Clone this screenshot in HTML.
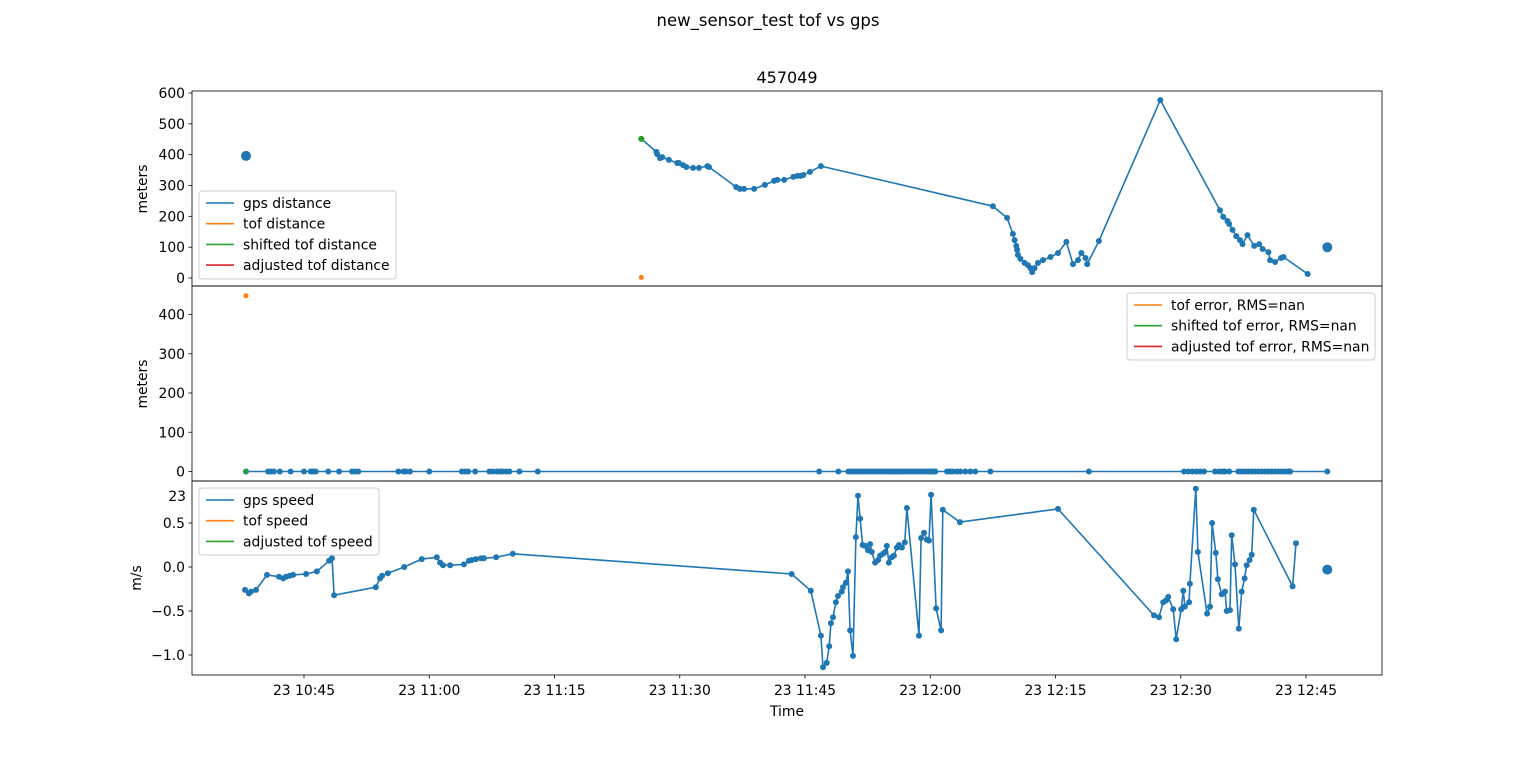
<!DOCTYPE html>
<html><head><meta charset="utf-8"><style>
html,body{margin:0;padding:0;background:#fff}
svg{display:block;font-family:"DejaVu Sans","Liberation Sans",sans-serif}
</style></head><body>
<svg id="fig" width="1536" height="759" viewBox="0 0 1536 759">
<text x="768" y="26" text-anchor="middle" font-size="16.5">new_sensor_test tof vs gps</text>
<text x="787" y="83" text-anchor="middle" font-size="16">457049</text>
<g id="g"></g>
</svg>
<script>
// time in minutes after 10:00 on day 23
const xTicks=[45,60,75,90,105,120,135,150,165];
const xTickLabels=["23 10:45","23 11:00","23 11:15","23 11:30","23 11:45","23 12:00","23 12:15","23 12:30","23 12:45"];
const distTicks=[0,100,200,300,400,500,600];
const errTicks=[0,100,200,300,400];
const speedTicks=[-1.0,-0.5,0.0,0.5];
const speedTickLabels=["\u22121.0","\u22120.5","0.0","0.5"];

const gpsDistT=[85.4,87.2,87.3,87.65,87.9,88.7,89.7,89.9,90.4,90.8,91.6,92.3,93.3,93.5,96.75,97.2,97.7,98.9,100.2,101.3,101.7,102.5,103.6,104.1,104.5,104.8,105.6,106.9,127.5,129.2,129.9,130.1,130.3,130.4,130.5,130.8,131.3,131.7,132.0,132.2,132.5,132.9,133.5,134.4,135.3,136.3,137.1,137.7,138.1,138.6,138.8,140.2,147.55,154.7,155.1,155.6,155.8,156.2,156.65,157.1,157.4,158.0,158.8,159.4,159.8,160.5,160.7,161.3,162.0,162.3,165.2];
const gpsDistV=[451,409,402,389,392,383,373,373,366,360,357,357,363,360,295,289,289,289,302,315,318,318,328,331,331,334,344,363,233,195,143,123,104,91,75,62,49,42,32,19,32,49,58,68,81,117,45,58,81,65,45,120,577,220,198,185,175,156,136,123,110,139,104,110,94,84,58,52,65,68,13];
const gpsDistBigT=[38.05,167.55];
const gpsDistBigV=[396,100];
const tofDistT=[85.4];
const tofDistV=[2];
const shiftedDistT=[85.4];
const shiftedDistV=[451];

const errT=[38.05,40.7,41.05,41.4,42.1,43.4,45,45.8,46.1,46.4,47.9,49.2,50.75,51.1,51.5,56.3,56.9,57.2,57.7,60,63.9,64.3,64.65,65.5,67.2,67.6,68.1,68.5,68.8,69.2,69.6,70.8,73,106.7,109,110.2,110.5,110.8,111.1,111.4,111.7,112.0,112.3,112.6,112.9,113.2,113.5,113.8,114.1,114.4,114.7,115.0,115.3,115.6,115.9,116.2,116.5,116.8,117.1,117.4,117.7,118.0,118.3,118.6,118.9,119.2,119.5,119.8,120.1,120.4,120.6,122.0,122.4,122.7,123.2,123.6,124.2,124.8,125.4,127.2,139.0,150.4,150.9,151.4,151.9,152.3,152.8,154.1,154.6,155.0,155.3,155.8,156.9,157.3,157.7,158.1,158.5,158.9,159.3,159.7,160.1,160.5,160.9,161.3,161.7,162.1,162.5,162.9,163.1,167.55];
const errV=[0,0,0,0,0,0,0,0,0,0,0,0,0,0,0,0,0,0,0,0,0,0,0,0,0,0,0,0,0,0,0,0,0,0,0,0,0,0,0,0,0,0,0,0,0,0,0,0,0,0,0,0,0,0,0,0,0,0,0,0,0,0,0,0,0,0,0,0,0,0,0,0,0,0,0,0,0,0,0,0,0,0,0,0,0,0,0,0,0,0,0,0,0,0,0,0,0,0,0,0,0,0,0,0,0,0,0,0,0,0];
const tofErrT=[38.05];
const tofErrV=[448];
const shiftedErrT=[38.05];
const shiftedErrV=[0];

const speedT=[37.93,38.4,38.65,39.25,40.57,42.0,42.5,42.85,43.3,43.7,45.25,46.55,48.0,48.35,48.6,53.6,54.1,54.35,55.05,57.0,59.1,60.9,61.3,61.65,62.5,64.15,64.75,65.1,65.6,66.2,66.55,68.0,70.0,103.4,105.7,106.9,107.15,107.6,107.9,108.1,108.35,108.7,108.95,109.4,109.55,109.9,110.15,110.4,110.75,111.1,111.35,111.6,111.9,112.2,112.55,112.8,113.0,113.4,113.75,114.0,114.35,114.6,114.8,115.05,115.4,115.65,116.0,116.25,116.6,116.95,117.2,118.65,118.9,119.25,119.6,119.85,120.1,120.7,121.3,121.5,123.55,135.3,146.8,147.4,147.9,148.25,148.5,149.1,149.45,150.05,150.3,150.5,151.0,151.1,151.8,152.05,153.15,153.5,153.75,154.2,154.45,154.9,155.3,155.5,155.9,156.1,156.5,156.95,157.3,157.65,157.9,158.25,158.5,158.75,163.4,163.8];
const speedV=[-0.26,-0.30,-0.28,-0.26,-0.09,-0.11,-0.13,-0.11,-0.10,-0.09,-0.08,-0.05,0.07,0.10,-0.32,-0.23,-0.13,-0.10,-0.07,0.0,0.09,0.11,0.05,0.02,0.02,0.03,0.07,0.08,0.09,0.10,0.10,0.11,0.15,-0.08,-0.27,-0.78,-1.14,-1.09,-0.90,-0.64,-0.57,-0.40,-0.33,-0.28,-0.23,-0.18,-0.05,-0.72,-1.01,0.34,0.81,0.55,0.25,0.24,0.19,0.26,0.17,0.05,0.08,0.13,0.15,0.17,0.24,0.05,0.11,0.13,0.22,0.25,0.22,0.28,0.67,-0.78,0.33,0.39,0.31,0.30,0.82,-0.47,-0.72,0.65,0.51,0.66,-0.55,-0.57,-0.40,-0.38,-0.34,-0.48,-0.82,-0.48,-0.27,-0.45,-0.40,-0.19,0.89,0.17,-0.53,-0.45,0.50,0.16,-0.14,-0.31,-0.28,-0.50,-0.49,0.36,0.03,-0.70,-0.28,-0.13,0.02,0.08,0.14,0.65,-0.22,0.27];
const speedBigT=[167.55];
const speedBigV=[-0.03];

const NS="http://www.w3.org/2000/svg";
const g=document.getElementById('g');
function el(tag,attrs,parent){const e=document.createElementNS(NS,tag);for(const k in attrs)e.setAttribute(k,attrs[k]);(parent||g).appendChild(e);return e;}
const L=192,R=1382;
const xs=t=>304+(t-45)*(1306-304)/120;
const panels=[
 {top:91,bot:286,y:v=>278-v*(185/600)},
 {top:286,bot:481,y:v=>471.5-v*(157/400)},
 {top:481,bot:675,y:v=>567-v*88}
];
const BLUE="#1f77b4",ORANGE="#ff7f0e",GREEN="#2ca02c",RED="#d62728";
function series(p,T,V,color,r,line,name){
  const grp=el('g',{});
  
  
  if(line&&T.length>1){
    const d=T.map((t,i)=>(i?'L':'M')+xs(t).toFixed(1)+','+p.y(V[i]).toFixed(1)).join('');
    el('path',{d:d,fill:'none',stroke:color,'stroke-width':1.6,'stroke-linejoin':'round'},grp);
  }
  T.forEach((t,i)=>{const c=el('circle',{cx:xs(t).toFixed(1),cy:p.y(V[i]).toFixed(1),r:r,fill:color},grp);
    
    });
}
series(panels[0],gpsDistT,gpsDistV,BLUE,3,true,'gps-distance-line');
series(panels[0],gpsDistBigT,gpsDistBigV,BLUE,5,false,'gps-distance-endpoints');
series(panels[0],tofDistT,tofDistV,ORANGE,2.5,false,'tof-distance');
series(panels[0],shiftedDistT,shiftedDistV,GREEN,3,false,'shifted-tof-distance');
series(panels[1],errT,errV,BLUE,3,true,'gps-error-line');
series(panels[1],tofErrT,tofErrV,ORANGE,2.5,false,'tof-error');
series(panels[1],shiftedErrT,shiftedErrV,GREEN,2.5,false,'shifted-tof-error');
series(panels[2],speedT,speedV,BLUE,3,true,'gps-speed-line');
series(panels[2],speedBigT,speedBigV,BLUE,5,false,'gps-speed-endpoint');

function yaxis(p,ticks,labels,name){
  const ax=el('g',{});
  
  
  ticks.forEach((v,i)=>{const y=p.y(v);
    el('line',{x1:L-3.5,x2:L,y1:y,y2:y,stroke:'#000','stroke-width':0.8},ax);
    const t=el('text',{x:L-7,y:y+5,'text-anchor':'end','font-size':13.9},ax);t.textContent=labels[i];});
}
yaxis(panels[0],distTicks,distTicks.map(String),'distance-y-axis');
yaxis(panels[1],errTicks,errTicks.map(String),'error-y-axis');
yaxis(panels[2],speedTicks,speedTickLabels,'speed-y-axis');
const off=el('text',{x:186,y:501,'text-anchor':'end','font-size':13.9});off.textContent='23';


panels.forEach((p,k)=>{
  xTicks.forEach(t=>el('line',{x1:xs(t),x2:xs(t),y1:p.bot,y2:p.bot+(k==2?3.5:0),stroke:'#000','stroke-width':0.8}));
  const r=el('rect',{x:L,y:p.top,width:R-L,height:p.bot-p.top,fill:'none',stroke:'#000','stroke-width':0.8});
  
});
xTicks.forEach((t,i)=>{const tx=el('text',{x:xs(t),y:695,'text-anchor':'middle','font-size':13.9});tx.textContent=xTickLabels[i];
  });

function label(txt,x,y,rot,name){const t=el('text',{x:x,y:y,'text-anchor':'middle','font-size':13.9,transform:rot?`rotate(-90 ${x} ${y})`:''});t.textContent=txt;
  }
label('meters',147,189,true,'distance-y-axis-title');
label('meters',147,384,true,'error-y-axis-title');
label('m/s',141,578,true,'speed-y-axis-title');
label('Time',787,716,false,'x-axis-title');

function legend(x,y,w,h,items,name){
  const lg=el('g',{});
  
  
  el('rect',{x:x,y:y,width:w,height:h,rx:3,fill:'#fff','fill-opacity':0.8,stroke:'#ccc','stroke-width':1},lg);
  items.forEach((it,i)=>{const yy=y+12+i*20.7;
    el('line',{x1:x+7,x2:x+35,y1:yy,y2:yy,stroke:it[1],'stroke-width':1.6},lg);
    const t=el('text',{x:x+44,y:yy+5,'font-size':13.9},lg);t.textContent=it[0];});
}
legend(199,191,197,88,[['gps distance',BLUE],['tof distance',ORANGE],['shifted tof distance',GREEN],['adjusted tof distance',RED]],'distance-legend');
legend(1127,293,248,67,[['tof error, RMS=nan',ORANGE],['shifted tof error, RMS=nan',GREEN],['adjusted tof error, RMS=nan',RED]],'error-legend');
legend(199,488,180,67,[['gps speed',BLUE],['tof speed',ORANGE],['adjusted tof speed',GREEN]],'speed-legend');
</script>
</body></html>
